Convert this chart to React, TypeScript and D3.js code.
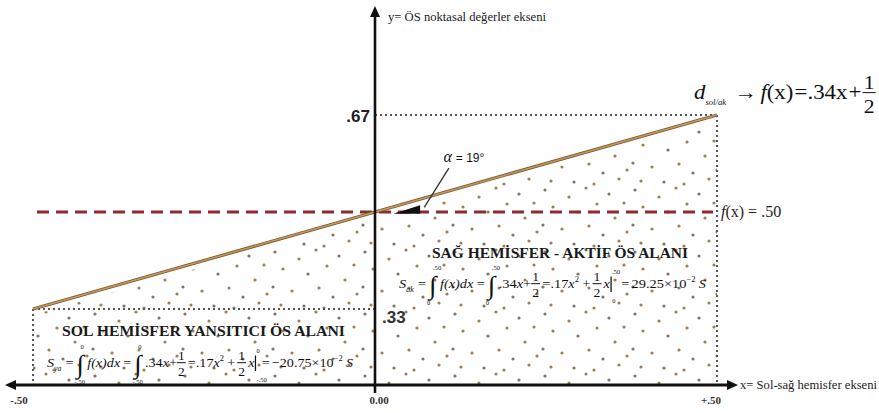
import React, { useEffect, useRef } from "react";
import * as d3 from "d3";

// chart values
const xTickValues = [-0.5, 0, 0.5];
const xTickLabels = ["-.50", "0.00", "+.50"];
const lineXs = [-0.5, 0, 0.5];
const lineYs = [0.33, 0.5, 0.67];
const refLevel = 0.5;
const yMarkValues = [0.67, 0.33];
const yMarkLabels = [".67", ".33"];
const alphaLabel = "= 19°";
const yAxisTitle = "y= ÖS noktasal değerler ekseni";
const xAxisTitle = "x= Sol-sağ hemisfer ekseni";
const rightTitle = "SAĞ HEMİSFER - AKTİF ÖS ALANI";
const leftTitle = "SOL HEMİSFER YANSITICI ÖS ALANI";

const W = 879;
const H = 413;
const SERIF = "'Liberation Serif', 'Times New Roman', 'DejaVu Serif', serif";

// stipple tile (texture only)
const stippleDots = [
  [5, 4], [29, 11], [46, 2], [69, 8], [84, 17], [13, 21], [38, 26], [57, 18], [75, 32],
  [3, 39], [22, 43], [49, 40], [63, 49], [87, 46], [11, 57], [34, 58], [54, 60], [79, 55],
];

type Piece =
  | { t: string; it?: boolean }
  | { gap: number }
  | { int: [string, string] }
  | { frac: [string, string] }
  | { sub: string; s?: number }
  | { sup: string }
  | { bar: [string, string] };

function drawFormula(parent: any, pieces: Piece[], x0: number, y0: number, width: number, fs: number) {
  const g = parent.append("g").attr("font-family", SERIF).attr("fill", "#111");
  let x = 0;
  const txt = (s: string, px: number, py: number, size: number, it = false) => {
    const t = g.append("text").attr("x", px).attr("y", py).attr("font-size", size)
      .attr("font-style", it ? "italic" : "normal").text(s);
    return (t.node() as SVGTextElement).getComputedTextLength();
  };
  for (const p of pieces) {
    if ("t" in p) x += txt(p.t, x, 0, fs, p.it);
    else if ("gap" in p) x += p.gap;
    else if ("int" in p) {
      const w = txt("∫", x, fs * 0.45, fs * 1.9);
      txt(p.int[0], x + w * 0.5, -fs * 1.32, fs * 0.46);
      txt(p.int[1], x - 2, fs * 1.25, fs * 0.46);
      x += w + 3;
    } else if ("frac" in p) {
      const w1 = txt(p.frac[0], x + 1, -fs * 0.5, fs * 0.95);
      txt(p.frac[1], x + 1, fs * 0.68, fs * 0.95);
      g.append("line").attr("x1", x).attr("x2", x + w1 + 2).attr("y1", -fs * 0.32).attr("y2", -fs * 0.32)
        .attr("stroke", "#111").attr("stroke-width", 1);
      x += w1 + 4;
    } else if ("sub" in p) x += txt(p.sub, x, fs * 0.3, fs * (p.s ?? 0.55), true) + 1;
    else if ("sup" in p) x += txt(p.sup, x, -fs * 0.45, fs * 0.6) + 1;
    else if ("bar" in p) {
      g.append("line").attr("x1", x + 1).attr("x2", x + 1).attr("y1", -fs * 0.85).attr("y2", fs * 0.3)
        .attr("stroke", "#111").attr("stroke-width", 1.2);
      const w = txt(p.bar[0], x + 2, -fs * 1.05, fs * 0.45);
      txt(p.bar[1], x + 2, fs * 1.08, fs * 0.45);
      x += Math.max(w, 4) + 3;
    }
  }
  g.attr("transform", `translate(${x0},${y0}) scale(${width / x},1)`);
}

function formulaPieces(name: string, lo: string, hi: string, result: string): Piece[] {
  return [
    { t: "S", it: true }, { sub: name }, { gap: 3 }, { t: "=" }, { gap: 3 },
    { int: [hi, lo] }, { t: "f(x)dx", it: true }, { gap: 3 }, { t: "=" }, { gap: 3 },
    { int: [hi, lo] }, { t: ".34" }, { t: "x", it: true }, { t: "+" }, { frac: ["1", "2"] }, { t: "=" },
    { t: ".17" }, { t: "x", it: true }, { sup: "2" }, { gap: 2 }, { t: "+" }, { gap: 2 }, { frac: ["1", "2"] },
    { t: "x", it: true }, { bar: [hi, lo] }, { t: "=" }, { gap: 2 }, { t: result + "×10" }, { sup: "−2" },
    { gap: 2 }, { t: "S", it: true },
  ];
}

function HemisphereChart() {
  const svgRef = useRef<SVGSVGElement | null>(null);

  useEffect(() => {
    const svg = d3.select(svgRef.current);
    svg.selectAll("*").remove();

    const x = d3.scaleLinear().domain([-0.5, 0.5]).range([33, 717]);
    const y = d3.scaleLinear().domain([0.33, 0.67]).range([309, 115]);
    const axisY = 385;
    const x0 = x(0);

    const defs = svg.append("defs");
    const pat = defs.append("pattern").attr("id", "stip").attr("patternUnits", "userSpaceOnUse")
      .attr("width", 90).attr("height", 62);
    stippleDots.forEach((d, i) => {
      pat.append("circle").attr("cx", d[0]).attr("cy", d[1]).attr("r", 1.6)
        .attr("fill", i % 3 === 0 ? "#7d7568" : "#9c7f56");
    });

    // stippled area under the function line
    const pts = lineXs.map((v, i) => [v, lineYs[i]] as [number, number]);
    const area = d3.area<[number, number]>().x(d => x(d[0])).y0(axisY).y1(d => y(d[1]) + 6);
    svg.append("path").attr("d", area(pts)).attr("fill", "url(#stip)");

    // dotted guides
    const dotted = (x1: number, y1: number, x2: number, y2: number) =>
      svg.append("line").attr("x1", x1).attr("y1", y1).attr("x2", x2).attr("y2", y2)
        .attr("stroke", "#555").attr("stroke-width", 2).attr("stroke-dasharray", "2,3");
    dotted(x0, y(0.67), x(0.5), y(0.67));
    dotted(x(0.5), y(0.67), x(0.5), axisY);
    dotted(x(-0.5), y(0.33), x0, y(0.33));
    dotted(x(-0.5), y(0.33), x(-0.5), axisY);

    // reference dashed line f(x)=.50
    svg.append("line").attr("x1", x(-0.5) + 4).attr("x2", x(0.5) - 4).attr("y1", y(refLevel)).attr("y2", y(refLevel))
      .attr("stroke", "#8b2a2f").attr("stroke-width", 3).attr("stroke-dasharray", "12,7");

    // function line
    const line = d3.line<[number, number]>().x(d => x(d[0])).y(d => y(d[1]));
    svg.append("path").attr("d", line(pts)).attr("fill", "none").attr("stroke", "#7a5a30").attr("stroke-width", 3.2);
    svg.append("path").attr("d", line(pts)).attr("fill", "none").attr("stroke", "#c49a60").attr("stroke-width", 1.5);

    // angle wedge and leader
    const wedge: [number, number][] = [[0.027, 0.497], [0.066, 0.497], [0.066, 0.512]];
    svg.append("path").attr("d", d3.line<[number, number]>().x(d => x(d[0])).y(d => y(d[1]))(wedge) + "Z")
      .attr("fill", "#111");
    svg.append("line").attr("x1", x(0.072)).attr("y1", y(0.508)).attr("x2", x(0.108)).attr("y2", y(0.577))
      .attr("stroke", "#333").attr("stroke-width", 1.3);
    const al = svg.append("text").attr("x", x(0.1)).attr("y", y(0.588)).attr("font-family", SERIF)
      .attr("font-size", 14).attr("fill", "#111");
    al.append("tspan").attr("font-style", "italic").attr("font-size", 16).text("α ");
    al.append("tspan").attr("font-family", "'Liberation Sans', Arial, sans-serif").attr("font-size", 12).text(alphaLabel);

    // axes
    svg.append("line").attr("x1", 14).attr("x2", 728).attr("y1", axisY).attr("y2", axisY)
      .attr("stroke", "#111").attr("stroke-width", 3);
    svg.append("path").attr("d", `M5,${axisY} L16,${axisY - 5} L16,${axisY + 5} Z`).attr("fill", "#111");
    svg.append("path").attr("d", `M738,${axisY} L727,${axisY - 5} L727,${axisY + 5} Z`).attr("fill", "#111");
    svg.append("line").attr("x1", x0).attr("x2", x0).attr("y1", axisY + 8).attr("y2", 16)
      .attr("stroke", "#111").attr("stroke-width", 2.6);
    svg.append("path").attr("d", `M${x0},6 L${x0 - 5},17 L${x0 + 5},17 Z`).attr("fill", "#111");

    // x tick labels
    svg.selectAll(".xt").data(xTickValues).enter().append("text")
      .attr("x", (d, i) => (i === 0 ? 19 : x(d) + (i === 1 ? 4 : -6)))
      .attr("y", axisY + 19).attr("text-anchor", "middle").attr("font-family", SERIF)
      .attr("font-weight", "bold").attr("font-size", 11).attr("fill", "#333")
      .text((d, i) => xTickLabels[i]);

    // y marks
    svg.append("text").attr("x", x0 - 5).attr("y", y(yMarkValues[0]) + 7).attr("text-anchor", "end")
      .attr("font-family", "'Liberation Sans', Arial, sans-serif").attr("font-weight", "bold").attr("font-size", 17)
      .attr("fill", "#222").text(yMarkLabels[0]);
    svg.append("text").attr("x", x0 + 7).attr("y", y(yMarkValues[1]) + 14)
      .attr("font-family", "'Liberation Sans', Arial, sans-serif").attr("font-weight", "bold").attr("font-size", 17)
      .attr("fill", "#333").text(yMarkLabels[1]);

    // axis titles
    svg.append("text").attr("x", 388).attr("y", 21).attr("font-family", SERIF).attr("font-size", 11.5)
      .attr("fill", "#222").attr("textLength", 158).attr("lengthAdjust", "spacingAndGlyphs").text(yAxisTitle);
    svg.append("text").attr("x", 740).attr("y", axisY + 4).attr("font-family", SERIF).attr("font-size", 11.5)
      .attr("fill", "#222").attr("textLength", 137).attr("lengthAdjust", "spacingAndGlyphs").text(xAxisTitle);

    // f(x)=.50
    const fl = svg.append("text").attr("x", 721).attr("y", y(refLevel) + 5).attr("font-family", SERIF)
      .attr("font-size", 16).attr("fill", "#222");
    fl.append("tspan").attr("font-style", "italic").text("f");
    fl.append("tspan").text("(x) = .50");

    // top-right function label
    drawFormula(svg, [
      { t: "d", it: true }, { sub: "sol/ak", s: 0.38 }, { gap: 6 }, { t: "→" }, { gap: 3 }, { t: "f", it: true },
      { t: "(x)" }, { gap: 1 }, { t: "=" }, { t: ".34x" }, { gap: 1 }, { t: "+" }, { gap: 1 }, { frac: ["1", "2"] },
    ], 694, 99, 184, 20);

    // region titles
    svg.append("text").attr("x", 432).attr("y", 258).attr("font-family", SERIF).attr("font-weight", "bold")
      .attr("font-size", 14.5).attr("fill", "#1a1a1a").attr("textLength", 256).attr("lengthAdjust", "spacingAndGlyphs")
      .text(rightTitle);
    svg.append("text").attr("x", 62).attr("y", 336).attr("font-family", SERIF).attr("font-weight", "bold")
      .attr("font-size", 15).attr("fill", "#1a1a1a").attr("textLength", 283).attr("lengthAdjust", "spacingAndGlyphs")
      .text(leftTitle);

    drawFormula(svg, formulaPieces("ak", "0", ".50", "29.25"), 399, 288, 307, 13.5);
    drawFormula(svg, formulaPieces("ya", "-.50", "0", "−20.75"), 47, 367, 306, 13.5);
  }, []);

  return (
    <svg ref={svgRef} width={W} height={H}
      style={{ position: "absolute", left: 0, top: 0, background: "#fff" }} />
  );
}

export default function App() {
  return <HemisphereChart />;
}
